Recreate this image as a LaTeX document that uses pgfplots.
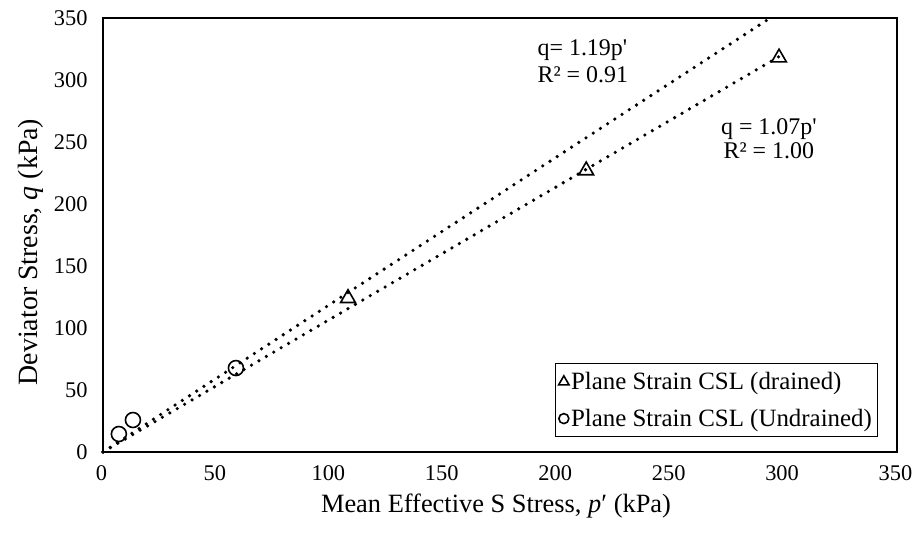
\documentclass[border=0pt]{standalone}
\usepackage{pgfplots}
\pgfplotsset{compat=1.18}
\usepackage{fontspec}
\setmainfont{Liberation Serif}[Ligatures=TeXOff]
\pgfplotsset{legend image code/.code={\draw[mark repeat=2,mark phase=2,#1] plot coordinates {(0bp,0bp) (7bp,0bp) (14bp,0bp)};}}
\begin{document}
\begin{tikzpicture}
\path[use as bounding box] (-103bp,-81bp) rectangle (809bp,452bp);
\begin{axis}[
  scale only axis,
  width=794bp, height=434bp,
  xmin=0, xmax=350, ymin=0, ymax=350,
  xtick={0,50,...,350}, ytick={0,50,...,350},
  major tick length=0pt,
  axis line style={line width=1.5bp, black},
  /pgf/number format/assume math mode=true,
  tick label style={font=\fontsize{22.5}{26}\selectfont},
  xticklabel style={yshift=-10bp, xshift=-1.5bp},
  yticklabel style={xshift=-12bp},
  xlabel={Mean Effective S Stress, \textit{p}′ (kPa)},
  ylabel={Deviator Stress, \textit{q} (kPa)},
  xlabel style={font=\fontsize{26.5}{30}\selectfont, yshift=-6bp, xshift=-4bp},
  ylabel style={font=\fontsize{28}{32}\selectfont, yshift=4bp, xshift=-17bp},
  legend style={at={(0.976,0.0346)}, anchor=south east, draw=black, line width=1bp,
    font=\fontsize{25}{29}\selectfont, row sep=14bp, inner xsep=3.5bp, inner ysep=6.5bp,
    nodes={inner xsep=2bp}},
  legend cell align=left,
  clip=false,
]
\addplot[only marks, mark=triangle, mark size=8.5bp, mark options={line width=1.6bp, black},
  legend image post style={mark size=6bp}]
  coordinates {(108,124) (213,227) (298,318)};
\addlegendentry{Plane Strain CSL (drained)}
\addplot[only marks, mark=o, mark size=7.5bp, mark options={line width=1.6bp, black},
  legend image post style={mark size=5bp}]
  coordinates {(7,14.5) (13.2,25.8) (58.6,67.7)};
\addlegendentry{Plane Strain CSL (Undrained)}
\addplot[black, line width=3.6bp, line cap=round, dash pattern=on 0pt off 8.6bp, forget plot]
  coordinates {(0,0) (294.1,350)};
\addplot[black, line width=3.6bp, line cap=round, dash pattern=on 0pt off 8.6bp, forget plot]
  coordinates {(0,0) (298,318.9)};
\node[anchor=north west, align=left, font=\fontsize{24}{27}\selectfont, inner sep=0pt]
  at (axis cs:191.5,333) {q= 1.19p'\\R² = 0.91};
\node[anchor=north, align=center, font=\fontsize{24}{25}\selectfont, inner sep=0pt]
  at (axis cs:293.5,269.4) {q = 1.07p'\\R² = 1.00};
\end{axis}
\end{tikzpicture}
\end{document}
